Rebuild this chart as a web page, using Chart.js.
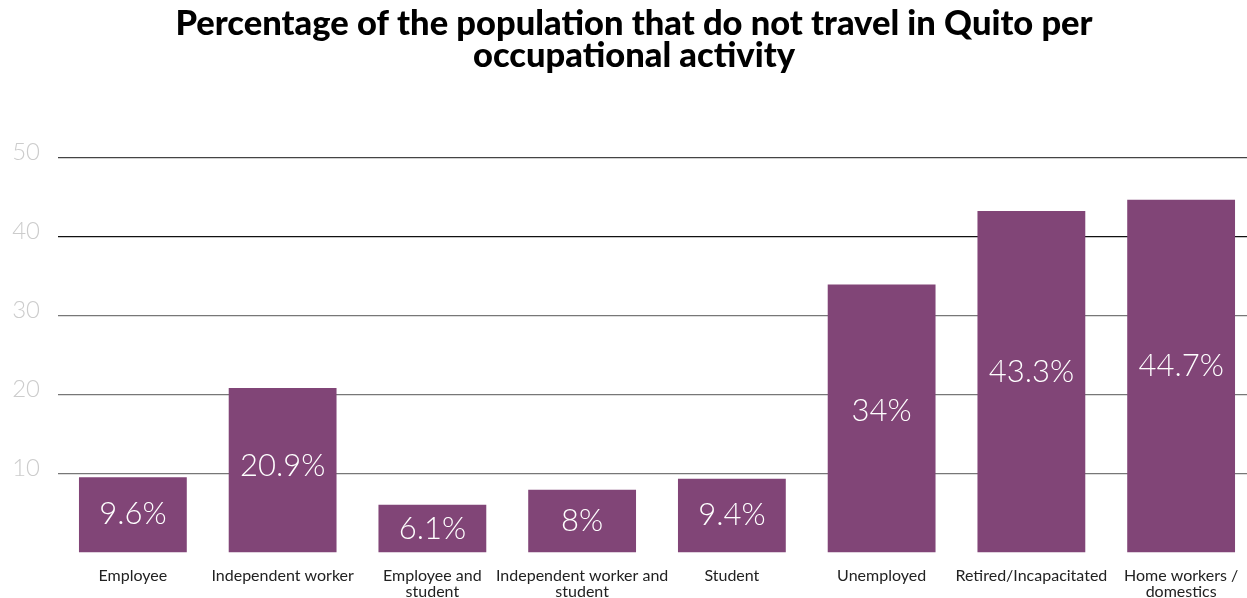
<!DOCTYPE html>
<html>
<head>
<meta charset="utf-8">
<script src="https://cdn.jsdelivr.net/npm/chart.js@4/dist/chart.umd.min.js"></script>
<style>
html,body{margin:0;padding:0;background:#fff;overflow:hidden;}
#wrap{width:1247px;height:598px;position:relative;overflow:hidden;}
</style>
</head>
<body>
<div id="wrap"><canvas id="c" width="1256" height="598"></canvas></div>
<script>
const titleLines = ["Percentage of the population that do not travel in Quito per", "occupational activity"];
const categories = [
  "Employee",
  "Independent worker",
  ["Employee and", "student"],
  ["Independent worker and", "student"],
  "Student",
  "Unemployed",
  "Retired/Incapacitated",
  ["Home workers /", "domestics"]
];
const values = [9.6, 20.9, 6.1, 8, 9.4, 34, 43.3, 44.7];
const valueLabels = ["9.6%", "20.9%", "6.1%", "8%", "9.4%", "34%", "43.3%", "44.7%"];
const yTicks = [10, 20, 30, 40, 50];

const titlePlugin = {
  id: 'customTitle',
  afterDraw(chart) {
    const ctx = chart.ctx;
    ctx.save();
    ctx.fillStyle = '#000';
    ctx.font = '900 34.5px Lato, "Open Sans", sans-serif';
    ctx.textAlign = 'center';
    ctx.textBaseline = 'middle';
    ctx.fillText(titleLines[0], 634, 24);
    ctx.fillText(titleLines[1], 634, 56);
    ctx.restore();
  }
};

const valueLabelPlugin = {
  id: 'valueLabels',
  afterDatasetsDraw(chart) {
    const ctx = chart.ctx;
    const meta = chart.getDatasetMeta(0);
    ctx.save();
    ctx.fillStyle = '#fff';
    ctx.font = '300 31px Lato, sans-serif';
    ctx.textAlign = 'center';
    ctx.textBaseline = 'middle';
    meta.data.forEach((bar, i) => {
      const h = bar.base - bar.y;
      const mid = (bar.y + bar.base) / 2 + 2 - 0.035 * h;
      ctx.fillText(valueLabels[i], bar.x, mid);
    });
    ctx.restore();
  }
};

new Chart(document.getElementById('c'), {
  type: 'bar',
  data: {
    labels: categories,
    datasets: [{
      data: values,
      backgroundColor: '#814577',
      barPercentage: 0.72,
      categoryPercentage: 1.0
    }]
  },
  options: {
    responsive: false,
    animation: false,
    layout: { padding: { top: 158, right: 0, bottom: 0, left: 0 } },
    plugins: {
      legend: { display: false },
      title: { display: false },
      tooltip: { enabled: false }
    },
    scales: {
      x: {
        grid: { display: false },
        border: { display: false },
        afterFit(scale) { scale.height = 45; },
        ticks: {
          color: '#222',
          font: { family: 'Lato, sans-serif', size: 16, lineHeight: 1.0 },
          padding: 7,
          maxRotation: 0,
          autoSkip: false
        }
      },
      y: {
        min: 0,
        max: 50,
        afterFit(scale) { scale.width = 58; },
        afterBuildTicks(scale) { scale.ticks = [0].concat(yTicks).map(v => ({ value: v })); },
        border: { display: false },
        grid: {
          drawTicks: false,
          lineWidth: 1.3,
          color(ctx) {
            const v = ctx.tick && ctx.tick.value;
            if (v === 0) return 'rgba(0,0,0,0)';
            if (v === 50) return '#444';
            if (v === 40) return '#111';
            return '#777';
          }
        },
        ticks: {
          color: '#cccccc',
          font: { family: 'Lato, sans-serif', size: 24, weight: '300' },
          padding: 18,
          labelOffset: -6,
          callback(v) { return v === 0 ? '' : String(v); }
        }
      }
    }
  },
  plugins: [titlePlugin, valueLabelPlugin]
});
</script>
</body>
</html>
